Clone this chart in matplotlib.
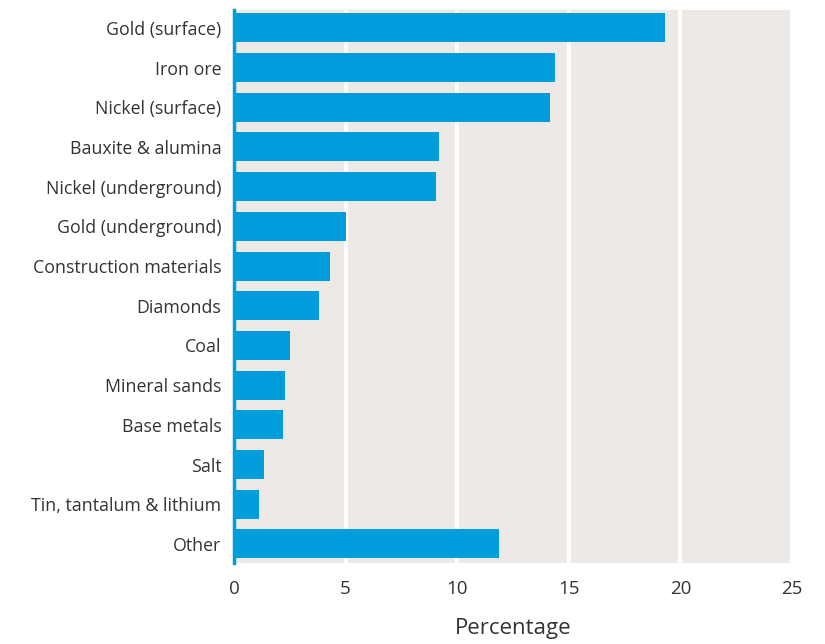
import matplotlib.pyplot as plt

categories = ['Gold (surface)', 'Iron ore', 'Nickel (surface)', 'Bauxite & alumina',
              'Nickel (underground)', 'Gold (underground)', 'Construction materials',
              'Diamonds', 'Coal', 'Mineral sands', 'Base metals', 'Salt',
              'Tin, tantalum & lithium', 'Other']
values = [19.33, 14.36, 14.15, 9.19, 9.04, 5.02, 4.3, 3.8, 2.51, 2.3, 2.21, 1.36, 1.13, 11.88]
xticks = [0, 5, 10, 15, 20, 25]

BLUE = '#009ddc'
BG = '#ece9e6'
TEXT = '#333333'


def main():
    plt.rcParams['font.family'] = ['Open Sans', 'DejaVu Sans']
    fig = plt.figure(figsize=(8.25, 6.44), dpi=100)
    ax = fig.add_axes([0.2836, 0.1258, 0.6764, 0.8587])
    ax.set_facecolor(BG)

    ind = list(range(len(categories)))
    ax.barh(ind, values, height=0.73, color=BLUE, zorder=3)

    ax.set_xlim(0, 25)
    ax.set_ylim(13.48, -0.45)
    ax.set_xticks(xticks)
    ax.set_xticklabels([str(t) for t in xticks], fontsize=13.5, color=TEXT)
    ax.set_yticks(ind)
    ax.set_yticklabels(categories, fontsize=12.8, color=TEXT)
    ax.tick_params(axis='both', length=0)
    ax.tick_params(axis='x', pad=12)
    ax.tick_params(axis='y', pad=9)

    ax.grid(axis='x', color='white', linewidth=3, zorder=1)
    ax.set_axisbelow(True)

    for side in ['top', 'right', 'bottom']:
        ax.spines[side].set_visible(False)
    ax.spines['left'].set_color(BLUE)
    ax.spines['left'].set_linewidth(2.5)
    ax.spines['left'].set_zorder(4)

    ax.set_xlabel('Percentage', fontsize=16, color=TEXT, labelpad=15)

    plt.savefig('out.png', dpi=100, format='png')


if __name__ == '__main__':
    main()
